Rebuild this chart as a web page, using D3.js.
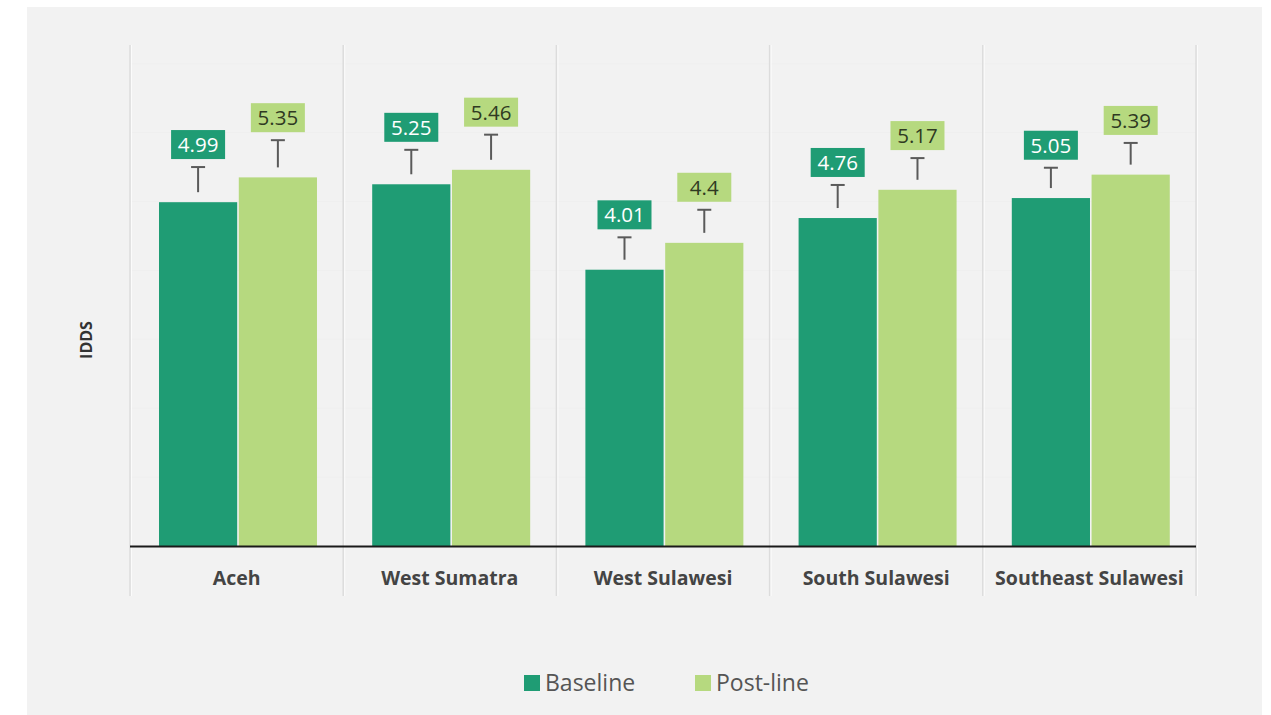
<!DOCTYPE html>
<html><head><meta charset="utf-8">
<script src="https://cdn.jsdelivr.net/npm/d3@7"></script>
<style>html,body{margin:0;padding:0;background:#fff;}svg{display:block;}</style>
</head><body>
<svg id="chart" width="1271" height="715"></svg>
<script>
const categories = ["Aceh", "West Sumatra", "West Sulawesi", "South Sulawesi", "Southeast Sulawesi"];
const seriesNames = ["Baseline", "Post-line"];
const baseline = [4.99, 5.25, 4.01, 4.76, 5.05];
const postline = [5.35, 5.46, 4.40, 5.17, 5.39];
const baselineErrHigh = [5.50, 5.75, 4.48, 5.24, 5.49];
const postlineErrHigh = [5.89, 5.97, 4.88, 5.63, 5.85];
const baselineLabels = ["4.99", "5.25", "4.01", "4.76", "5.05"];
const postlineLabels = ["5.35", "5.46", "4.4", "5.17", "5.39"];
const yTicks = [0, 1, 2, 3, 4, 5, 6, 7];
const axisTitle = "IDDS";

const colors = {"Baseline": "#1f9c74", "Post-line": "#b6d97f"};
const labelText = {"Baseline": "#ffffff", "Post-line": "#2f3a22"};

const svg = d3.select("#chart");
// panel
svg.append("rect").attr("x", 27).attr("y", 7).attr("width", 1235).attr("height", 708).attr("fill", "#f2f2f2");

const plot = {left: 130, right: 1196, top: 63.7, bottom: 546};
const x = d3.scaleBand().domain(categories).range([plot.left, plot.right]);
const xi = d3.scaleBand().domain(seriesNames)
  .range([x.bandwidth() * 0.136, x.bandwidth() * 0.877]).paddingInner(0.02);
const y = d3.scaleLinear().domain([0, 7]).range([plot.bottom, plot.top]);

// very faint gridlines
svg.append("g").selectAll("line").data(yTicks.filter(d => d > 0)).join("line")
  .attr("x1", plot.left).attr("x2", plot.right)
  .attr("y1", d => y(d)).attr("y2", d => y(d))
  .attr("stroke", "#efefef").attr("stroke-width", 1);

// separators
const seps = [...categories.map(c => x(c)), plot.right];
const sepG = svg.append("g");
sepG.selectAll("line.s").data(seps).join("line").attr("class", "s")
  .attr("x1", d => d).attr("x2", d => d).attr("y1", 45).attr("y2", 596)
  .attr("stroke", "#dcdcdc").attr("stroke-width", 1.5);
sepG.selectAll("line.h").data(seps).join("line").attr("class", "h")
  .attr("x1", d => d + 1.5).attr("x2", d => d + 1.5).attr("y1", 45).attr("y2", 596)
  .attr("stroke", "#fbfbfb").attr("stroke-width", 1);

const rows = [];
categories.forEach((c, i) => {
  rows.push({cat: c, s: "Baseline", v: baseline[i], e: baselineErrHigh[i], lab: baselineLabels[i]});
  rows.push({cat: c, s: "Post-line", v: postline[i], e: postlineErrHigh[i], lab: postlineLabels[i]});
});

const g = svg.append("g");
g.selectAll("rect.bar").data(rows).join("rect").attr("class", "bar")
  .attr("x", d => x(d.cat) + xi(d.s)).attr("width", xi.bandwidth())
  .attr("y", d => y(d.v)).attr("height", d => y(0) - y(d.v))
  .attr("fill", d => colors[d.s]);

// error T
const cx = d => x(d.cat) + xi(d.s) + xi.bandwidth() / 2;
g.selectAll("line.stem").data(rows).join("line").attr("class", "stem")
  .attr("x1", cx).attr("x2", cx).attr("y1", d => y(d.e)).attr("y2", d => y(d.v) - 10)
  .attr("stroke", "#5a5a5a").attr("stroke-width", 2);
g.selectAll("line.cap").data(rows).join("line").attr("class", "cap")
  .attr("x1", d => cx(d) - 7).attr("x2", d => cx(d) + 7).attr("y1", d => y(d.e)).attr("y2", d => y(d.e))
  .attr("stroke", "#5a5a5a").attr("stroke-width", 2);

// value label boxes
const boxW = 54, boxH = 29;
g.selectAll("rect.lbl").data(rows).join("rect").attr("class", "lbl")
  .attr("x", d => cx(d) - boxW / 2).attr("y", d => y(d.e) - 8 - boxH)
  .attr("width", boxW).attr("height", boxH).attr("fill", d => colors[d.s]);
g.selectAll("text.lbl").data(rows).join("text").attr("class", "lbl")
  .attr("x", cx).attr("y", d => y(d.e) - 8 - boxH / 2 + 7.5)
  .attr("text-anchor", "middle").attr("font-family", "'Open Sans', sans-serif")
  .attr("font-size", 20.5).attr("fill", d => labelText[d.s]).text(d => d.lab);

// x axis line
svg.append("line").attr("x1", plot.left).attr("x2", plot.right)
  .attr("y1", plot.bottom + 0.5).attr("y2", plot.bottom + 0.5)
  .attr("stroke", "#1a1a1a").attr("stroke-width", 2);

// category labels
svg.append("g").selectAll("text").data(categories).join("text")
  .attr("x", d => x(d) + x.bandwidth() / 2).attr("y", 585)
  .attr("text-anchor", "middle").attr("font-family", "'Open Sans', sans-serif")
  .attr("font-weight", "bold").attr("font-size", 19.5).attr("fill", "#444").text(d => d);

// y title
svg.append("text").attr("transform", "translate(92,340) rotate(-90)")
  .attr("text-anchor", "middle").attr("font-family", "'Open Sans', sans-serif")
  .attr("font-weight", "bold").attr("font-size", 16).attr("fill", "#333").text(axisTitle);

// legend
const legX = [524, 695];
const leg = svg.append("g").selectAll("g").data(seriesNames).join("g")
  .attr("transform", (d, i) => `translate(${legX[i]},0)`);
leg.append("rect").attr("x", 0).attr("y", 675).attr("width", 16).attr("height", 16).attr("fill", d => colors[d]);
leg.append("text").attr("x", 21).attr("y", 691).attr("font-family", "'Open Sans', sans-serif")
  .attr("font-size", 23).attr("fill", "#555").text(d => d);
</script>
</body></html>
